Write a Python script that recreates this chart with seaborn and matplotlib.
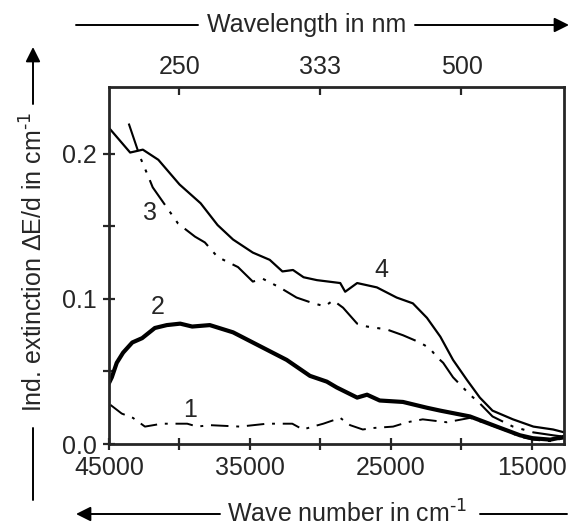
import seaborn as sns
import matplotlib.pyplot as plt
import pandas as pd

# wave number (cm^-1) and induced extinction (cm^-1)
wn_1 = [44900, 44100, 43300, 42450, 41250, 39450, 38750, 37850, 35700, 33800, 32000,
        31250, 30550, 29800, 28600, 27900, 27000, 26300, 24850, 23850, 22750, 21050,
        19400, 18200, 17050, 15850, 14950, 13700, 12700]
ext_1 = [0.027, 0.021, 0.018, 0.012, 0.014, 0.014, 0.012, 0.013, 0.012, 0.014, 0.014,
         0.010, 0.012, 0.014, 0.018, 0.013, 0.010, 0.011, 0.012, 0.015, 0.017, 0.015,
         0.018, 0.014, 0.010, 0.005, 0.003, 0.002, 0.004]

wn_2 = [45000, 44800, 44450, 44000, 43350, 42650, 41750, 40900, 39950, 39100, 37850,
        36200, 34800, 33800, 32400, 30750, 29550, 28850, 27400, 26700, 25800, 24150,
        22450, 21500, 19400, 17500, 15850, 14950, 13700, 12700]
ext_2 = [0.042, 0.046, 0.056, 0.063, 0.070, 0.073, 0.080, 0.082, 0.083, 0.081, 0.082,
         0.077, 0.070, 0.065, 0.058, 0.047, 0.043, 0.039, 0.032, 0.034, 0.030, 0.029,
         0.025, 0.023, 0.019, 0.012, 0.006, 0.004, 0.003, 0.005]

wn_3 = [43600, 42800, 42150, 41900, 40100, 38900, 38200, 37300, 35850, 34800, 34100,
        32900, 31700, 30500, 29700, 29100, 28400, 27400, 26700, 25300, 24150, 22950,
        22250, 21750, 21300, 20600, 19400, 18700, 17800, 16350, 14900, 13500, 12700]
ext_3 = [0.221, 0.198, 0.183, 0.177, 0.152, 0.143, 0.139, 0.129, 0.122, 0.112, 0.114,
         0.108, 0.101, 0.097, 0.095, 0.099, 0.094, 0.083, 0.081, 0.079, 0.075, 0.070,
         0.066, 0.060, 0.056, 0.046, 0.034, 0.028, 0.019, 0.012, 0.008, 0.006, 0.005]

wn_4 = [45000, 43500, 42600, 41500, 40000, 38500, 37300, 36200, 34800, 33600, 32700,
        31950, 31200, 30250, 28600, 28250, 27400, 26000, 24600, 23450, 22450, 21500,
        20600, 19600, 18700, 17800, 16350, 14900, 13500, 12700]
ext_4 = [0.218, 0.201, 0.203, 0.196, 0.179, 0.166, 0.151, 0.141, 0.132, 0.127, 0.119,
         0.120, 0.115, 0.113, 0.111, 0.105, 0.111, 0.108, 0.101, 0.097, 0.087, 0.074,
         0.058, 0.044, 0.032, 0.023, 0.017, 0.012, 0.010, 0.008]

curve_names = ["1", "2", "3", "4"]
label_pos = [(39260, 0.0235), (41520, 0.0945), (42090, 0.159), (25710, 0.120)]

top_tick_wn = [40000, 30000, 20000]
top_tick_labels = ["250", "333", "500"]

sns.set_style("ticks")
plt.rcParams['font.family'] = ['Liberation Sans', 'DejaVu Sans']
FS = 18

frames = []
for name, x, y in zip(curve_names, [wn_1, wn_2, wn_3, wn_4], [ext_1, ext_2, ext_3, ext_4]):
    frames.append(pd.DataFrame({'wn': x, 'ext': y, 'curve': name}))
df = pd.concat(frames, ignore_index=True)

W, H = 570, 529
fig = plt.figure(figsize=(W / 100, H / 100), dpi=100)
ax = fig.add_axes([109 / W, (H - 444) / H, (564 - 109) / W, (444 - 87) / H])

styles = {
    "1": dict(lw=1.4, ls=(0, (9, 4, 1.5, 4))),
    "2": dict(lw=3.0, ls='-'),
    "3": dict(lw=1.5, ls=(0, (14, 4, 1.5, 4, 1.5, 4))),
    "4": dict(lw=1.6, ls='-'),
}
for name in curve_names:
    sns.lineplot(data=df[df['curve'] == name], x='wn', y='ext', ax=ax, color='black',
                 linewidth=styles[name]['lw'], linestyle=styles[name]['ls'],
                 estimator=None, sort=False, legend=False)

for name, (x, y) in zip(curve_names, label_pos):
    ax.text(x, y, name, fontsize=FS, ha='center', va='center')

ax.set_xlim(45000, 12730)
ax.set_ylim(0, 0.2462)
ax.set_xticks([45000, 40000, 35000, 30000, 25000, 20000, 15000])
ax.set_xticklabels(["45000", "", "35000", "", "25000", "", "15000"])
ax.set_yticks([0.0, 0.05, 0.1, 0.15, 0.2])
ax.set_yticklabels(["0.0", "", "0.1", "", "0.2"])
ax.tick_params(axis='both', direction='inout', length=9, width=1.6, labelsize=FS, pad=4)
ax.set_xlabel("")
ax.set_ylabel("")
for s in ax.spines.values():
    s.set_linewidth(2.0)

sec = ax.secondary_xaxis('top')
sec.set_xticks(top_tick_wn)
sec.set_xticklabels(top_tick_labels)
sec.tick_params(direction='in', length=6, width=1.6, labelsize=FS, pad=6)


def fp(x, y):
    return (x / W, (H - y) / H)


arrow = dict(arrowstyle='-|>', lw=1.4, color='black', mutation_scale=22, shrinkA=0, shrinkB=0)
plain = dict(arrowstyle='-', lw=1.4, color='black', shrinkA=0, shrinkB=0)
sup = "$^{\\text{-1}}$"

# top: wavelength
fig.text(*fp(307, 25), "Wavelength in nm", fontsize=FS, ha='center', va='center')
ax.annotate("", xy=fp(198, 25), xytext=fp(76, 25), xycoords='figure fraction', arrowprops=plain, annotation_clip=False)
ax.annotate("", xy=fp(569, 25), xytext=fp(415, 25), xycoords='figure fraction', arrowprops=arrow, annotation_clip=False)

# bottom: wave number
fig.text(*fp(347, 514), "Wave number in cm" + sup, fontsize=FS, ha='center', va='center')
ax.annotate("", xy=fp(76, 514), xytext=fp(220, 514), xycoords='figure fraction', arrowprops=arrow, annotation_clip=False)
ax.annotate("", xy=fp(567, 514), xytext=fp(480, 514), xycoords='figure fraction', arrowprops=plain, annotation_clip=False)

# left: extinction
fig.text(*fp(34, 262), "Ind. extinction \u0394E/d in cm" + sup, fontsize=FS,
         ha='center', va='center', rotation=90)
ax.annotate("", xy=fp(33, 47), xytext=fp(33, 104), xycoords='figure fraction', arrowprops=arrow, annotation_clip=False)
ax.annotate("", xy=fp(33, 500), xytext=fp(33, 428), xycoords='figure fraction', arrowprops=plain, annotation_clip=False)

fig.savefig("out.png", dpi=100)
